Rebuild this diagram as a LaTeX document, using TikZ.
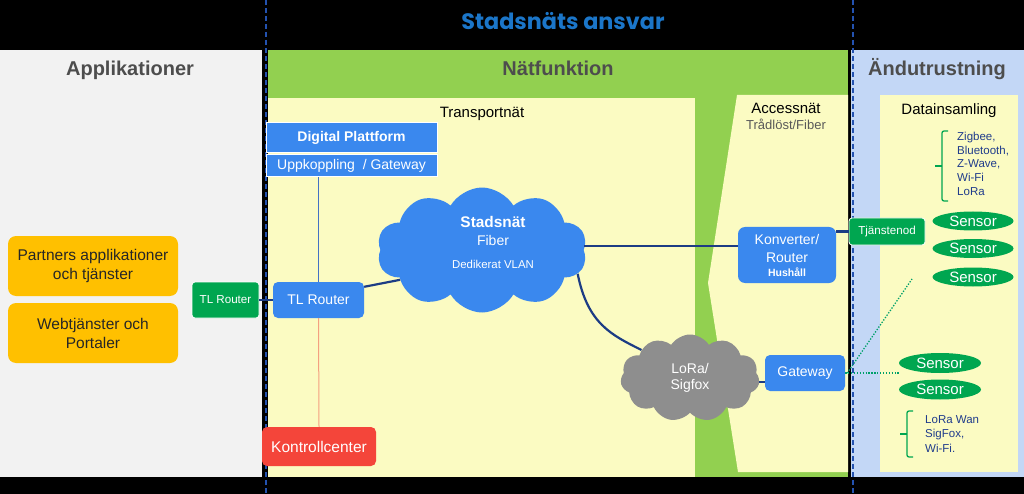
\documentclass[tikz,border=0pt]{standalone}
\usepackage{fontspec}
\setmainfont{Liberation Sans}
\newfontfamily\titlefont{Poppins}
\usetikzlibrary{shapes.symbols,shapes.geometric}
\definecolor{panelgray}{HTML}{F2F2F2}
\definecolor{panelgreen}{HTML}{92D050}
\definecolor{paleyel}{HTML}{FBFBC2}
\definecolor{panelblue}{HTML}{C3D7F6}
\definecolor{nodeblue}{HTML}{3A88EE}
\definecolor{appor}{HTML}{FFC000}
\definecolor{sgreen}{HTML}{00A650}
\definecolor{kred}{HTML}{F4453A}
\definecolor{cgray}{HTML}{8E8E8E}
\definecolor{titleblue}{HTML}{1B76C9}
\definecolor{navy}{HTML}{1C3C84}
\definecolor{dashblue}{HTML}{2352B0}
\definecolor{headgray}{HTML}{4D4D4D}
\definecolor{listblue}{HTML}{203C8C}
\definecolor{dotgreen}{HTML}{00A06A}
\definecolor{thinblue}{HTML}{4472C4}
\definecolor{salmon}{HTML}{F4A080}
\newcommand\fsz[2]{\fontsize{#1}{#2}\selectfont}
\tikzset{
  head/.style={anchor=base, text=headgray, font=\bfseries\fsz{20}{24}, inner sep=0pt},
  sub/.style={anchor=base, text=black, font=\fsz{15}{18}, inner sep=0pt},
  rectbox/.style={rectangle, fill=nodeblue, draw=white, line width=1pt, text=white, inner sep=0pt, align=center},
  bluebox/.style={rectangle, rounded corners=5pt, fill=nodeblue, text=white, inner sep=0pt, align=center, font=\fsz{14}{18}},
  greenbox/.style={rectangle, rounded corners=3pt, fill=sgreen, draw=white, line width=0.8pt, text=white, inner sep=0pt, align=center, font=\fsz{11.6}{13}},
  appbox/.style={rectangle, rounded corners=8pt, fill=appor, text=black!85, inner sep=0pt, align=center, font=\fsz{15.5}{19}, minimum width=170pt, minimum height=60pt},
  sensor/.style={ellipse, fill=sgreen, text=white, inner sep=0pt, font=\fsz{15}{18}},
  conn/.style={navy, line width=2.2pt},
  dashline/.style={dashblue, line width=1.5pt, dash pattern=on 5pt off 3pt},
  dotline/.style={dotgreen, line width=1.3pt, dash pattern=on 1.3pt off 1.6pt},
  brack/.style={sgreen, line width=1.3pt, rounded corners=2pt},
  listtext/.style={anchor=north west, text=listblue, font=\fsz{11.5}{13.7}, align=left, inner sep=0pt}
}
\begin{document}
\begin{tikzpicture}[x=1pt,y=-1pt]
\useasboundingbox (0,0) rectangle (1024,494);
% panels
\fill[black] (0,0) rectangle (1024,494);
\fill[panelgray] (0,50) rectangle (262,477);
\fill[panelgreen] (268,50) rectangle (848,477);
\fill[paleyel] (268,98) rectangle (695,477);
\fill[paleyel] (737,95) -- (848,95) -- (848,472) -- (738,472) -- (708,283) -- cycle;
\fill[panelblue] (851,50) rectangle (1024,477);
\fill[paleyel] (880,95) rectangle (1018,472);
\draw[dashline] (266,0) -- (266,494);
\draw[dashline] (853,0) -- (853,494);
% headings
\node[anchor=base, inner sep=0pt, text=titleblue, font=\titlefont\bfseries\fsz{22.3}{26}] (title) at (563,30) {Stadsnäts ansvar};
\node[head] (happ) at (130,76) {Applikationer};
\node[head] (hnet) at (558,76) {Nätfunktion};
\node[head] (hend) at (937,76) {Ändutrustning};
\node[sub] (htrans) at (482,118) {Transportnät};
\node[sub] (hacc) at (786,114) {Accessnät};
\node[anchor=base, inner sep=0pt, text=black!65, font=\fsz{13}{16}] (hacc2) at (786,130) {Trådlöst/Fiber};
\node[sub] (hdata) at (949,115) {Datainsamling};
% application boxes
\node[appbox] (pa) at (93,266) {Partners applikationer\\och tjänster};
\node[appbox] (wp) at (93,333) {Webtjänster och\\Portaler};
% transport nodes
\node[rectbox, minimum width=171pt, minimum height=30pt, font=\bfseries\fsz{14}{17}] (dp) at (351.5,138) {Digital Plattform};
\node[rectbox, minimum width=171pt, minimum height=22pt, font=\fsz{14}{17}] (upp) at (351.5,166) {Uppkoppling~ / Gateway};
\node[bluebox, minimum width=91pt, minimum height=36pt] (tlr) at (318.5,300) {TL Router};
\node[greenbox, minimum width=67pt, minimum height=36pt] (tlg) at (225.5,300) {TL Router};
\node[rectangle, rounded corners=5pt, fill=kred, text=white, inner sep=0pt, font=\fsz{15.5}{18}, minimum width=114pt, minimum height=39pt] (kc) at (319,446.5) {Kontrollcenter};
% clouds
\node[cloud, cloud puffs=10, cloud puff arc=120, aspect=1.7, fill=nodeblue, inner sep=0pt, minimum width=210pt, minimum height=125pt] (stad) at (482,250) {};
\node[anchor=base, inner sep=0pt, text=white, font=\bfseries\fsz{15.4}{18}] (stadt1) at (493,228) {Stadsnät};
\node[anchor=base, inner sep=0pt, text=white, font=\fsz{14}{17}] (stadt2) at (493,245) {Fiber};
\node[anchor=base, inner sep=0pt, text=white, font=\fsz{11.4}{14}] (stadt3) at (493,268) {Dedikerat VLAN};
\node[cloud, cloud puffs=11, cloud puff arc=115, aspect=1.6, fill=cgray, inner sep=0pt, minimum width=139pt, minimum height=87pt, text=white, align=center, font=\fsz{14}{15.5}] (lora) at (690,378) {LoRa/\\Sigfox};
% access nodes
\node[bluebox, rounded corners=7pt, minimum width=98pt, minimum height=56pt] (konv) at (787,255) {Konverter/\\Router\\[-4pt]{\bfseries\fsz{10.5}{12}Hushåll}};
\node[bluebox, minimum width=80pt, minimum height=36pt] (gw) at (805,373) {Gateway};
\node[greenbox, minimum width=76pt, minimum height=27pt] (tj) at (887,231.5) {Tjänstenod};
% sensors
\node[sensor, minimum width=81pt, minimum height=19pt] (s1) at (973,221) {Sensor};
\node[sensor, minimum width=81pt, minimum height=19pt] (s2) at (973,248.5) {Sensor};
\node[sensor, minimum width=81pt, minimum height=19pt] (s3) at (973,277) {Sensor};
\node[sensor, minimum width=82pt, minimum height=20pt] (s4) at (940,363) {Sensor};
\node[sensor, minimum width=82pt, minimum height=20pt] (s5) at (940,389.5) {Sensor};
% lists with brackets
\draw[brack] (948,131) -- (942,131) -- (942,201) -- (948,201);
\draw[sgreen, line width=1.3pt] (942,166) -- (935,166);
\node[listtext] (list1) at (957,132) {Zigbee,\\Bluetooth,\\Z-Wave,\\Wi-Fi\\LoRa};
\draw[brack] (913,411) -- (907,411) -- (907,457) -- (913,457);
\draw[sgreen, line width=1.3pt] (907,434) -- (900,434);
\node[listtext, font=\fsz{11.5}{14.5}] (list2) at (925,415) {LoRa Wan\\SigFox,\\Wi-Fi.};
% connectors
\draw[thinblue, line width=1pt] (tlr.north |- upp.south) -- (tlr.north);
\draw[salmon, line width=1pt] (tlr.south) -- (kc.north);
\draw[navy, line width=1.2pt] (tlg.east) -- (tlr.west);
\draw[conn] ([yshift=-5pt]tlr.north east) -- (stad.200);
\draw[conn] (stad.east |- 0,246) -- (konv.west |- 0,246);
\draw[conn] (stad.-14) .. controls +(10,50) and +(-30,-15) .. (lora.150);
\draw[conn] (lora.east |- 0,382) -- (gw.west |- 0,382);
\draw[conn] (tj.west -| konv.east) -- (tj.west);
\coordinate (dend) at (912,279);
\draw[dotline] (gw.east) -- (gw.east -| s4.west);
\draw[dotline] ([xshift=2pt]gw.east) -- (dend);
\end{tikzpicture}
\end{document}
